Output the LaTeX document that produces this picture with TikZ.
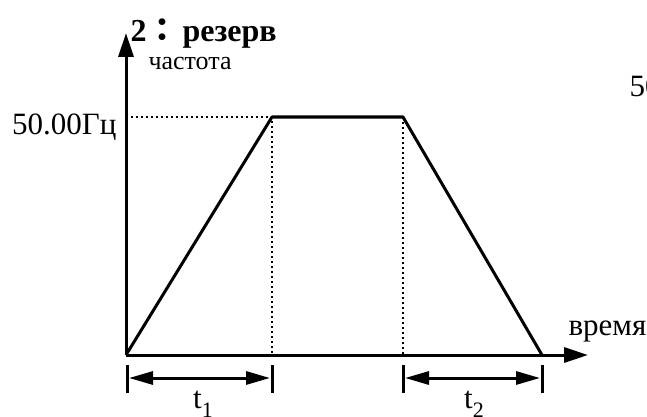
\documentclass[tikz,border=0pt]{standalone}
\usepackage{fontspec}
\setmainfont{Liberation Serif}
\newfontfamily\cjk{Noto Sans CJK TC}
\usetikzlibrary{arrows.meta}
\newcommand{\tsub}[1]{t\raisebox{-0.3em}{\fontsize{22}{22}\selectfont #1}}
\begin{document}
\begin{tikzpicture}[x=1pt, y=-1pt, line width=3pt,
  axis/.style={-{Triangle[length=24pt,width=15pt]}},
  span/.style={{Triangle[length=24pt,width=13pt]}-{Triangle[length=24pt,width=13pt]}},
  guide/.style={line width=2pt, dash pattern=on 2pt off 3pt},
  lbl/.style={inner sep=0pt, font=\fontsize{31}{36}\selectfont}]
  \useasboundingbox (0,0) rectangle (647,417);
  \coordinate (O) at (126,355);
  \coordinate (Ytop) at (126,33);
  \coordinate (Xend) at (588,355);
  \coordinate (A) at (272,117);
  \coordinate (B) at (403,117);
  \coordinate (C) at (542,355);
  \coordinate (Ay) at (126,117);
  \coordinate (Ax) at (272,355);
  \coordinate (Bx) at (403,355);
  \draw[axis] (O) -- (Ytop);
  \draw[axis] (O) -- (Xend);
  \draw[line join=round] (O) -- (A) -- (B) -- (C);
  \draw[guide] (Ay) -- (A) -- (Ax);
  \draw[guide] (B) -- (Bx);
  % ticks and spans
  \foreach \x/\n in {127/a, 272/b, 403/c, 542/d}
    \draw (\x,365) coordinate (tick\n) -- (\x,393);
  \coordinate (S1l) at (129,378);
  \coordinate (S1r) at (270,378);
  \coordinate (S2l) at (405,378);
  \coordinate (S2r) at (540,378);
  \draw[span] (S1l) -- (S1r);
  \draw[span] (S2l) -- (S2r);
  % labels
  \node[lbl, anchor=base east] (fmax) at (118,135) {50.00Гц};
  \node[lbl, anchor=base west] (fcut) at (628,96) {50};
  \node[lbl, anchor=base west] (tlab) at (567,335) {время};
  \node[inner sep=0pt, anchor=base west, font=\fontsize{26}{30}\selectfont] (flab) at (147,70) {частота};
  \node[inner sep=0pt, anchor=base west, font=\bfseries\fontsize{32}{36}\selectfont] (title) at (129,42) {2{\cjk ：}\hspace{4pt}резерв};
  \node[lbl, anchor=base] (t1) at (203,408) {\tsub{1}};
  \node[lbl, anchor=base] (t2) at (474,408) {\tsub{2}};
\end{tikzpicture}
\end{document}
